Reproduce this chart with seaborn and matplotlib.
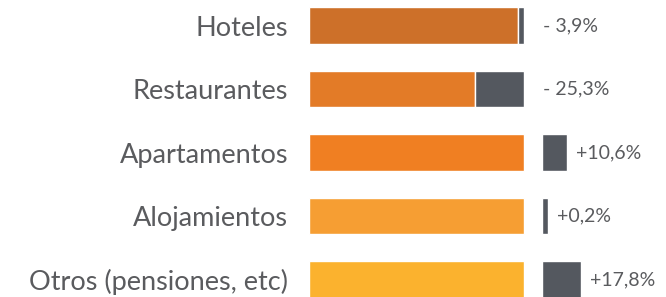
import seaborn as sns
import matplotlib.pyplot as plt

categories = ["Hoteles", "Restaurantes", "Apartamentos", "Alojamientos", "Otros (pensiones, etc)"]
change_labels = ["- 3,9%", "- 25,3%", "+10,6%", "+0,2%", "+17,8%"]
# drawn length of the grey change bar (orange bar = 100)
change_width = [-2.7, -22.7, 11.5, 2.8, 18.3]
base = 100
colors = ["#CD7029", "#E37B27", "#F07F22", "#F69E33", "#FBB22E"]
grey = "#54585F"
text_color = "#5A5B5E"

sns.set_style("white")
plt.rcParams["font.family"] = ["Lato", "DejaVu Sans"]

fig = plt.figure(figsize=(6.66, 2.97), dpi=100)
ax = fig.add_axes([309 / 666, 0, 357 / 666, 1])

orange = [base + min(w, 0) for w in change_width]
sns.barplot(x=orange, y=categories, hue=categories, palette=colors, width=0.58,
            orient="h", legend=False, ax=ax, saturation=1)

gap = 8.4
lefts = [base + w if w < 0 else base + gap for w in change_width]
widths = [abs(w) for w in change_width]
ax.barh(range(len(categories)), widths, left=lefts, height=0.58, color=grey,
        edgecolor="white", linewidth=1.0)

for i, (w, lab) in enumerate(zip(change_width, change_labels)):
    end = lefts[i] + widths[i]
    off = 13.5 if w < 0 else 6.5
    ax.annotate(lab, (end, i), xytext=(off, 0), textcoords="offset points",
                ha="left", va="center", fontsize=14, color=text_color)

ax.set_xlim(0, 357 / 2.15)
ax.set_ylim(4 + 17.5 / 63.5, -25.5 / 63.5)
ax.set_xlabel("")
ax.set_ylabel("")
ax.set_xticks([])
ax.tick_params(axis="y", length=0, pad=15, labelsize=19.5, labelcolor=text_color)
sns.despine(ax=ax, left=True, bottom=True)

fig.savefig("out.png", dpi=100)
